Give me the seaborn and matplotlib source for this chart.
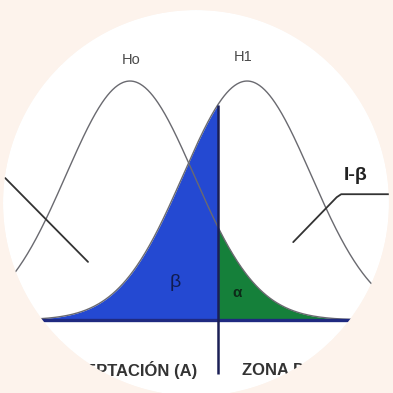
import numpy as np
import pandas as pd
import seaborn as sns
import matplotlib.pyplot as plt
from matplotlib.patches import Circle, PathPatch
from matplotlib.path import Path

# hypothesis test diagram: H0 and H1 normal curves, standardised units
mu_h0 = 0.0
mu_h1 = 1.83
sigma = 1.0
critical = 1.375
hyp_labels = ["Ho", "H1"]
zone_labels = ["ZONA DE ACEPTACIÓN (A)", "ZONA DE RECHAZO (R)"]
area_labels = ["β", "α", "I-β"]


def pdf(x, mu):
    return np.exp(-0.5 * ((x - mu) / sigma) ** 2) / (sigma * np.sqrt(2 * np.pi))


z = np.sort(np.append(np.linspace(-2.3, 4.4, 500), critical))
curves = pd.DataFrame({
    "z": np.concatenate([z, z]),
    "density": np.concatenate([pdf(z, mu_h0), pdf(z, mu_h1)]),
    "hyp": [hyp_labels[0]] * len(z) + [hyp_labels[1]] * len(z),
})

sns.set_theme(style="white")
plt.rcParams["font.family"] = ["Liberation Sans", "DejaVu Sans"]
bg = "#fdf3ec"
fig = plt.figure(figsize=(3.93, 3.93), dpi=100, facecolor=bg)
ax = fig.add_axes([0, 0, 1, 1])
ax.set_xlim(-130 / 64, 263 / 64)
ax.set_ylim(-73 / 599, 320 / 599)
ax.axis("off")

cx, cy, r = 196 / 393, 1 - 203 / 393, 193 / 393
ax.add_patch(Circle((cx, cy), r, transform=ax.transAxes, facecolor="white",
                    edgecolor="none", zorder=0))

# beta (under H1, left of critical value) and alpha (under H0, right of it)
left = z <= critical
right = z >= critical
ax.fill_between(z[left], 0, pdf(z[left], mu_h1), color="#2449d2", lw=0, zorder=1)
ax.fill_between(z[right], 0, pdf(z[right], mu_h0), color="#15803a", lw=0, zorder=1)

sns.lineplot(data=curves, x="z", y="density", hue="hyp", units="hyp", estimator=None,
             palette=["#6a6a70", "#6a6a70"], linewidth=1.0, legend=False, ax=ax, zorder=2)

ax.axhline(0, color="#1f2a80", lw=2.4, zorder=3)
ax.vlines(critical, -0.09, pdf(critical, mu_h1), color="#1a1f55", lw=1.8, zorder=4)

# pointer lines
ax.plot([-1.95, -0.656], [0.237, 0.097], color="#333333", lw=1.3, zorder=3)
ax.plot([2.55, 3.23, 3.30, 4.05], [0.130, 0.205, 0.210, 0.210], color="#333333", lw=1.3, zorder=3)

ax.text(0.016, 0.434, hyp_labels[0], ha="center", va="center", fontsize=10.5, color="#4a4a4a")
ax.text(1.77, 0.439, hyp_labels[1], ha="center", va="center", fontsize=10.5, color="#4a4a4a")
ax.text(0.70, 0.062, area_labels[0], ha="center", va="center", fontsize=14, color="#101c50", zorder=5)
ax.text(1.67, 0.045, area_labels[1], ha="center", va="center", fontsize=11, color="#0d2a18",
        fontweight="bold", zorder=5)
ax.text(3.52, 0.242, area_labels[2], ha="center", va="center", fontsize=14, color="#222222",
        fontweight="bold")
ax.text(1.05, -0.0835, zone_labels[0], ha="right", va="center", fontsize=12, color="#333333",
        fontweight="bold")
ax.text(1.75, -0.0835, zone_labels[1], ha="left", va="center", fontsize=12, color="#333333",
        fontweight="bold")

# round crop: square with a circular hole, drawn on top in the page colour
t = np.linspace(0, -2 * np.pi, 361)
outer = [(0, 0), (1, 0), (1, 1), (0, 1), (0, 0)]
inner = list(zip(cx + r * np.cos(t), cy + r * np.sin(t)))
verts = outer + inner
codes = ([Path.MOVETO] + [Path.LINETO] * 3 + [Path.CLOSEPOLY]
         + [Path.MOVETO] + [Path.LINETO] * (len(inner) - 2) + [Path.CLOSEPOLY])
ax.add_patch(PathPatch(Path(verts, codes), transform=ax.transAxes, facecolor=bg,
                       edgecolor="none", zorder=10, clip_on=False))

fig.savefig("out.png", dpi=100, facecolor=bg)
